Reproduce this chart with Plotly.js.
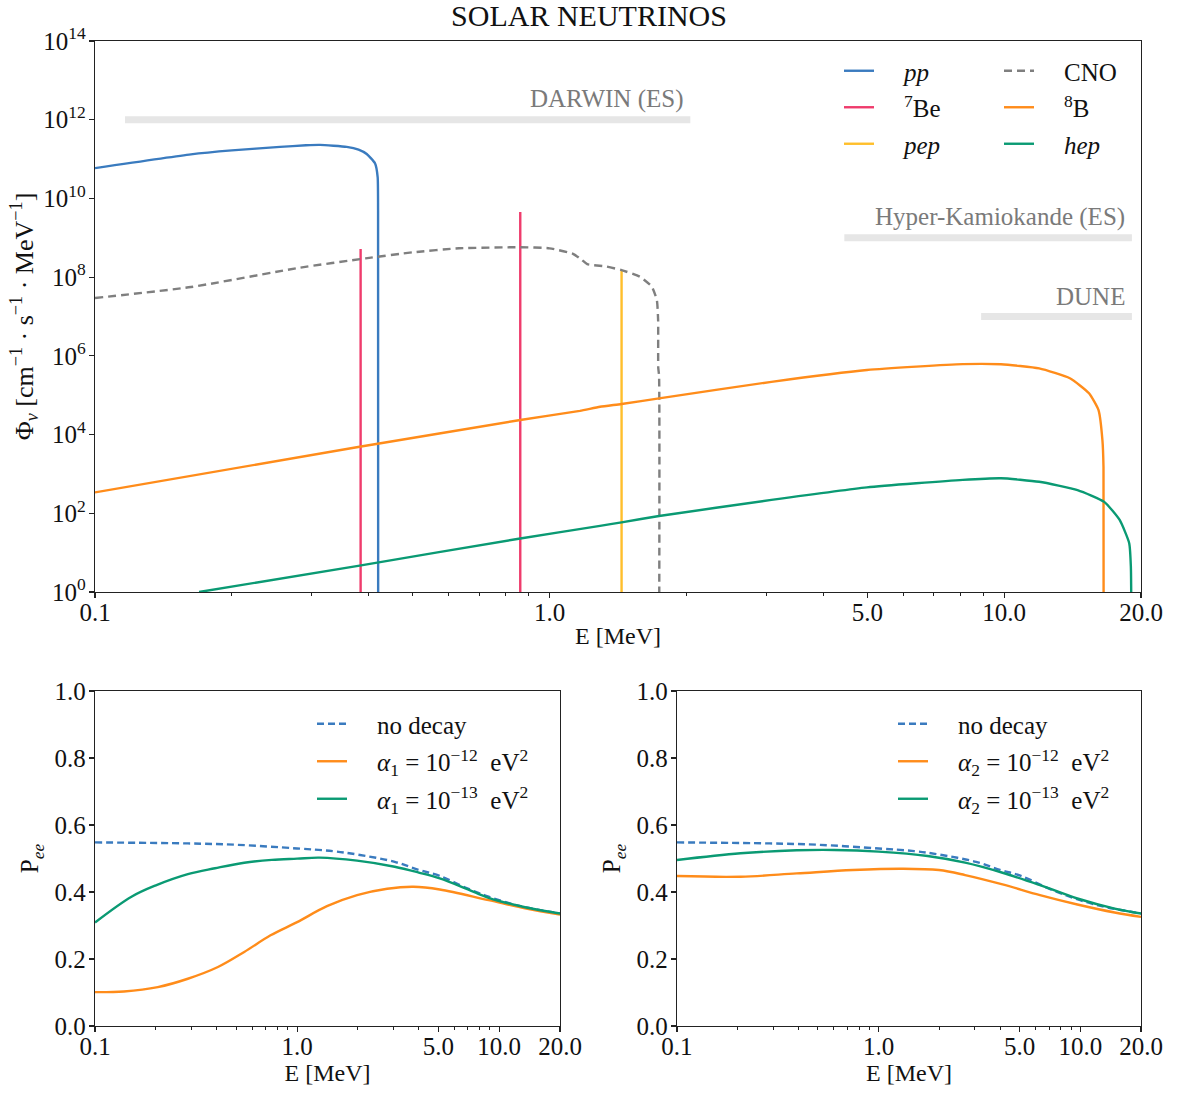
<!DOCTYPE html>
<html>
<head>
<meta charset="utf-8">
<script src="https://cdn.plot.ly/plotly-3.0.1.min.js"></script>
<style>html,body{margin:0;padding:0;background:#fff;}#chart{width:1178px;height:1093px;}</style>
</head>
<body>
<div id="chart"></div>
<script>
// ---------- Top panel: solar neutrino fluxes ----------
const ppE    = [0.1, 0.1626, 0.2, 0.2553, 0.2912, 0.3126, 0.3578, 0.38, 0.396, 0.413, 0.4186, 0.4195, 0.4197];
const ppFlux = [5.9e10, 1.32e11, 1.66e11, 2.04e11, 2.24e11, 2.29e11, 2.04e11, 1.74e11, 1.35e11, 7.8e10, 3.5e10, 5e9, 1e-2];

const be7E    = [0.384, 0.862];
const be7Flux = [5.2e8, 4.5e9];

const pepE    = [1.44];
const pepFlux = [1.5e8];

const cnoE    = [0.1, 0.1626, 0.2825, 0.3937, 0.5, 0.632, 0.862, 1.0, 1.126, 1.175, 1.21, 1.333, 1.44, 1.581, 1.678, 1.722, 1.733, 1.734, 1.741, 1.7415];
const cnoFlux = [2.95e7, 5.6e7, 1.74e8, 3.0e8, 4.27e8, 5.4e8, 5.75e8, 5.4e8, 3.9e8, 2.8e8, 2.14e8, 1.86e8, 1.51e8, 1.02e8, 5.75e7, 2.6e7, 7.9e6, 5e5, 3.2e5, 1e-2];

const b8E    = [0.1, 0.382, 0.862, 1.166, 1.291, 1.44, 1.741, 3.076, 4.99, 8.11, 9.84, 11.94, 13.95, 15.37, 16.13, 16.45, 16.54, 16.55];
const b8Flux = [3.4e2, 4.9e3, 2.34e4, 4.0e4, 5.1e4, 6.0e4, 8.3e4, 2.19e5, 4.37e5, 6.17e5, 6.1e5, 4.79e5, 2.69e5, 1.12e5, 4.17e4, 7.2e3, 1.5e3, 1e-1];

const hepE    = [0.1694, 0.382, 0.862, 1.291, 1.44, 1.741, 3.076, 4.99, 8.11, 9.84, 11.94, 14.5, 16.6, 17.95, 18.84, 19.0, 19.05];
const hepFlux = [1, 4.7, 22.9, 47.9, 58.9, 85.1, 219, 457, 708, 776, 631, 389, 195, 67.6, 17.4, 4.4, 0.1];

const detectors = ['DARWIN (ES)', 'Hyper-Kamiokande (ES)', 'DUNE'];
const detEmin   = [0.1164, 4.45, 8.9];
const detEmax   = [2.04, 19.1, 19.1];
const detFlux   = [1e12, 1e9, 1e7];

const fluxTickVals = [1, 1e2, 1e4, 1e6, 1e8, 1e10, 1e12, 1e14];
const fluxTickText = ['10<sup>0</sup>', '10<sup>2</sup>', '10<sup>4</sup>', '10<sup>6</sup>', '10<sup>8</sup>', '10<sup>10</sup>', '10<sup>12</sup>', '10<sup>14</sup>'];

// ---------- Bottom panels: survival probability ----------
const noDecayE = [0.1, 0.288, 0.5, 1.0, 1.5, 1.98, 3.04, 4.0, 5.08, 7.0, 8.86, 11, 13.6, 20];
const noDecayP = [0.548, 0.545, 0.541, 0.530, 0.522, 0.512, 0.490, 0.466, 0.448, 0.410, 0.386, 0.368, 0.354, 0.336];

const a1m13E = [0.1, 0.1515, 0.2, 0.288, 0.3925, 0.5476, 0.75, 1.0, 1.29, 1.98, 3.04, 4.0, 5.08, 7.0, 8.86, 13.6, 20];
const a1m13P = [0.309, 0.386, 0.42, 0.4535, 0.471, 0.4875, 0.496, 0.4995, 0.5025, 0.4935, 0.4755, 0.458, 0.4406, 0.408, 0.3826, 0.3536, 0.3357];

const a1m12E = [0.1, 0.139, 0.2045, 0.288, 0.4057, 0.5476, 0.739, 1.0, 1.405, 1.98, 2.79, 3.76, 5.08, 8.86, 13.6, 20];
const a1m12P = [0.101, 0.103, 0.116, 0.141, 0.176, 0.221, 0.2707, 0.31, 0.3576, 0.3906, 0.4096, 0.4156, 0.4076, 0.3756, 0.3506, 0.3327];

const a2m13E = [0.1, 0.2067, 0.3925, 0.602, 1.0, 1.75, 2.685, 4.115, 6.31, 9.67, 14.8, 20];
const a2m13P = [0.4955, 0.5155, 0.5245, 0.5255, 0.5205, 0.5075, 0.4875, 0.4575, 0.4206, 0.3806, 0.3506, 0.3357];

const a2m12E = [0.1, 0.2067, 0.3925, 0.745, 1.3, 1.99, 2.685, 4.115, 6.31, 9.67, 14.8, 20];
const a2m12P = [0.4476, 0.4456, 0.4555, 0.4655, 0.4695, 0.4655, 0.4505, 0.4226, 0.3906, 0.3626, 0.3387, 0.3257];

const pTickVals = [0, 0.2, 0.4, 0.6, 0.8, 1.0];
const pTickText = ['0.0', '0.2', '0.4', '0.6', '0.8', '1.0'];

const eTickVals = [0.1, 1, 5, 10, 20];
const eTickText = ['0.1', '1.0', '5.0', '10.0', '20.0'];
const eMinorVals = [0.2, 0.3, 0.4, 0.5, 0.6, 0.7, 0.8, 0.9, 2, 3, 4, 6, 7, 8, 9];

// ---------- styles ----------
const FONT = 'Liberation Serif, Times New Roman, serif';
const C = {pp: '#3a7bbf', be7: '#ef3b6c', pep: '#ffbf2b', cno: '#7f7f7f', b8: '#ff8c1a', hep: '#0a9a73', band: '#e6e6e6', bandText: '#7a7a7a'};
const LW = 2.4;
const PAD = '\u00a0\u00a0\u00a0\u00a0';

function spikes(xs, ys, floor) {
  const x = [], y = [];
  xs.forEach((e, i) => { x.push(e, e, null); y.push(floor, ys[i], null); });
  return {x, y};
}

const traces = [];
detectors.forEach((d, i) => {
  traces.push({x: [detEmin[i], detEmax[i]], y: [detFlux[i], detFlux[i]], mode: 'lines', xaxis: 'x', yaxis: 'y',
    line: {color: C.band, width: 7}, showlegend: false, hoverinfo: 'skip'});
});
const smoothTop = {shape: 'spline', smoothing: 0.5};
traces.push({x: ppE, y: ppFlux, name: PAD + '<i>pp</i>', mode: 'lines', line: Object.assign({color: C.pp, width: LW}, smoothTop), xaxis: 'x', yaxis: 'y', legend: 'legend', legendgroup: 'a'});
const be7s = spikes(be7E, be7Flux, 1);
traces.push({x: be7s.x, y: be7s.y, name: PAD + '<sup>7</sup>Be', mode: 'lines', line: {color: C.be7, width: LW}, xaxis: 'x', yaxis: 'y', legend: 'legend', legendgroup: 'b'});
const peps = spikes(pepE, pepFlux, 1);
traces.push({x: peps.x, y: peps.y, name: PAD + '<i>pep</i>', mode: 'lines', line: {color: C.pep, width: LW}, xaxis: 'x', yaxis: 'y', legend: 'legend', legendgroup: 'c'});
traces.push({x: cnoE, y: cnoFlux, name: PAD + 'CNO', mode: 'lines', line: Object.assign({color: C.cno, width: LW, dash: '8px,5px'}, smoothTop), xaxis: 'x', yaxis: 'y', legend: 'legend2', legendgroup: 'd'});
traces.push({x: b8E, y: b8Flux, name: PAD + '<sup>8</sup>B', mode: 'lines', line: Object.assign({color: C.b8, width: LW}, smoothTop), xaxis: 'x', yaxis: 'y', legend: 'legend2', legendgroup: 'e'});
traces.push({x: hepE, y: hepFlux, name: PAD + '<i>hep</i>', mode: 'lines', line: Object.assign({color: C.hep, width: LW}, smoothTop), xaxis: 'x', yaxis: 'y', legend: 'legend2', legendgroup: 'f'});

const smoothBot = {shape: 'spline', smoothing: 1};
traces.push({x: noDecayE, y: noDecayP, name: PAD + 'no decay', mode: 'lines', line: Object.assign({color: C.pp, width: LW, dash: '7px,4px'}, smoothBot), xaxis: 'x2', yaxis: 'y2', legend: 'legend3', legendgroup: 'g'});
traces.push({x: a1m12E, y: a1m12P, name: PAD + '<i>α</i><sub>1</sub> = 10<sup>−12</sup>  eV<sup>2</sup>', mode: 'lines', line: Object.assign({color: C.b8, width: LW}, smoothBot), xaxis: 'x2', yaxis: 'y2', legend: 'legend3', legendgroup: 'h'});
traces.push({x: a1m13E, y: a1m13P, name: PAD + '<i>α</i><sub>1</sub> = 10<sup>−13</sup>  eV<sup>2</sup>', mode: 'lines', line: Object.assign({color: C.hep, width: LW}, smoothBot), xaxis: 'x2', yaxis: 'y2', legend: 'legend3', legendgroup: 'i'});
traces.push({x: noDecayE, y: noDecayP, name: PAD + 'no decay', mode: 'lines', line: Object.assign({color: C.pp, width: LW, dash: '7px,4px'}, smoothBot), xaxis: 'x3', yaxis: 'y3', legend: 'legend4', legendgroup: 'j'});
traces.push({x: a2m12E, y: a2m12P, name: PAD + '<i>α</i><sub>2</sub> = 10<sup>−12</sup>  eV<sup>2</sup>', mode: 'lines', line: Object.assign({color: C.b8, width: LW}, smoothBot), xaxis: 'x3', yaxis: 'y3', legend: 'legend4', legendgroup: 'k'});
traces.push({x: a2m13E, y: a2m13P, name: PAD + '<i>α</i><sub>2</sub> = 10<sup>−13</sup>  eV<sup>2</sup>', mode: 'lines', line: Object.assign({color: C.hep, width: LW}, smoothBot), xaxis: 'x3', yaxis: 'y3', legend: 'legend4', legendgroup: 'l'});

const axisBase = {showline: true, linecolor: '#222', linewidth: 1.2, mirror: true, ticks: 'outside', ticklen: 5, tickwidth: 1.2, tickcolor: '#222',
  showgrid: false, zeroline: false, tickfont: {family: FONT, size: 25, color: '#111'}};
const eAxis = (domain, anchor) => Object.assign({}, axisBase, {type: 'log', domain: domain, anchor: anchor, range: [-1, Math.log10(20)],
  tickmode: 'array', tickvals: eTickVals, ticktext: eTickText, ticklabelstandoff: -7,
  minor: {tickmode: 'array', tickvals: eMinorVals, ticks: 'outside', ticklen: 3, tickwidth: 1, tickcolor: '#222', showgrid: false},
  title: {text: 'E [MeV]', font: {family: FONT, size: 24, color: '#111'}, standoff: 2}});
const pAxis = (domain, anchor) => Object.assign({}, axisBase, {domain: domain, anchor: anchor, range: [0, 1], tickmode: 'array', tickvals: pTickVals, ticktext: pTickText,
  ticklabelstandoff: -2,
  title: {text: 'P<sub><i>ee</i></sub>', font: {family: FONT, size: 25, color: '#111'}, standoff: 8}});

const legendBase = {xref: 'paper', yref: 'paper', xanchor: 'left', yanchor: 'top', bgcolor: 'rgba(0,0,0,0)', borderwidth: 0,
  font: {family: FONT, size: 25, color: '#111'}, itemwidth: 30};

const annotations = detectors.map((d, i) => ({x: Math.log10(detEmax[i]), y: Math.log10(detFlux[i]), xref: 'x', yref: 'y', text: d,
  showarrow: false, xanchor: 'right', yanchor: 'bottom', xshift: -5, yshift: 5, font: {family: FONT, size: 25, color: C.bandText}}));

const px2x = p => (p - 95) / 1046;
const px2y = p => (1026 - p) / 985;

const layout = {
  width: 1178, height: 1093,
  margin: {l: 95, r: 37, t: 41, b: 67},
  paper_bgcolor: '#fff', plot_bgcolor: '#fff',
  font: {family: FONT, color: '#111'},
  title: {text: 'SOLAR NEUTRINOS', font: {family: FONT, size: 30, color: '#111'}, x: 0.5, xref: 'container', y: 1 - 15 / 1093, yref: 'container', yanchor: 'middle'},
  xaxis: eAxis([0, 1], 'y'),
  yaxis: Object.assign({}, axisBase, {type: 'log', domain: [0.4406, 1], anchor: 'x', range: [0, 14], tickmode: 'array', tickvals: fluxTickVals, ticktext: fluxTickText,
    ticklabelstandoff: -2,
    title: {text: 'Φ<sub><i>ν</i></sub> [cm<sup>−1</sup> · s<sup>−1</sup> · MeV<sup>−1</sup>]', font: {family: FONT, size: 26, color: '#111'}, standoff: 2}}),
  xaxis2: eAxis([0, 0.4446], 'y2'),
  yaxis2: pAxis([0, 0.3401], 'x2'),
  xaxis3: eAxis([0.5564, 1], 'y3'),
  yaxis3: pAxis([0, 0.3401], 'x3'),
  legend:  Object.assign({}, legendBase, {x: px2x(839), y: px2y(48), tracegroupgap: 1}),
  legend2: Object.assign({}, legendBase, {x: px2x(999), y: px2y(48), tracegroupgap: 1}),
  legend3: Object.assign({}, legendBase, {x: px2x(312), y: px2y(701), tracegroupgap: 2}),
  legend4: Object.assign({}, legendBase, {x: px2x(893), y: px2y(701), tracegroupgap: 2}),
  annotations: annotations,
  showlegend: true
};

Plotly.newPlot('chart', traces, layout, {displayModeBar: false, staticPlot: true});
</script>
</body>
</html>
